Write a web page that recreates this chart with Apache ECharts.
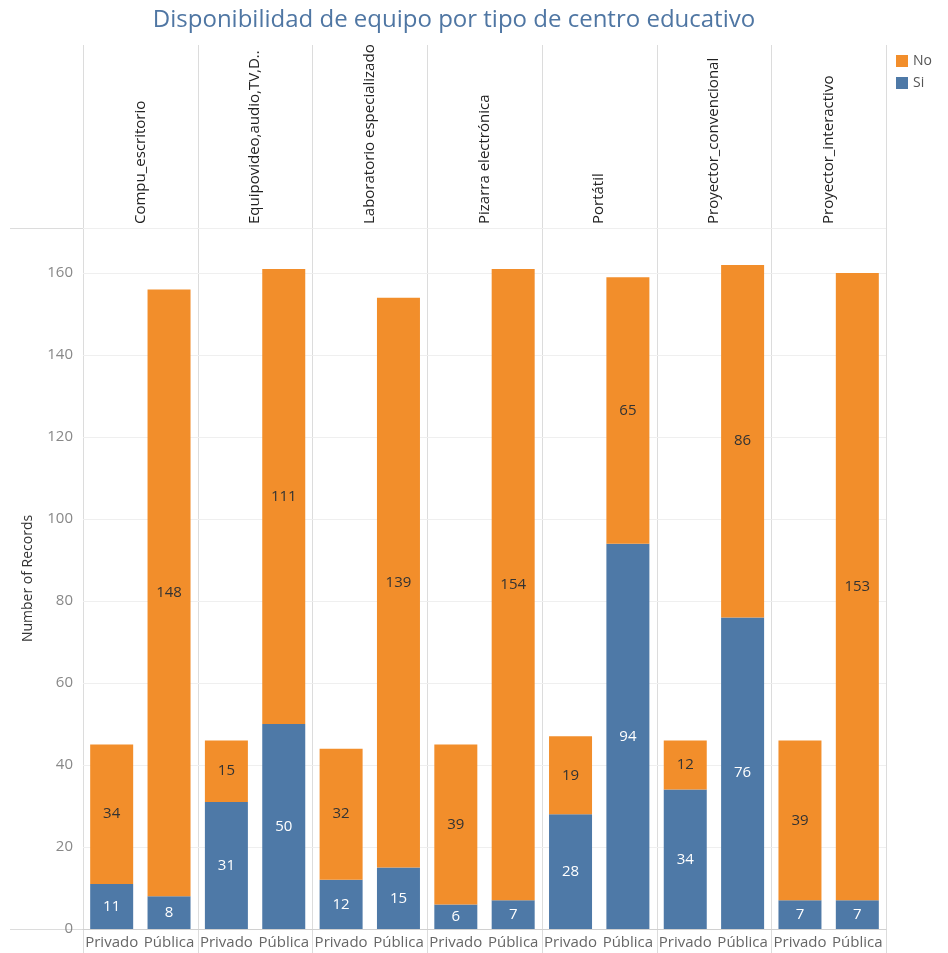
<!DOCTYPE html>
<html>
<head>
<meta charset="utf-8">
<script src="https://cdn.jsdelivr.net/npm/echarts@6/dist/echarts.min.js"></script>
<style>html,body{margin:0;padding:0;background:#fff}#c{width:948px;height:953px}</style>
</head>
<body>
<div id="c"></div>
<script>
var facets = ['Compu_escritorio','Equipovideo,audio,TV,D..','Laboratorio especializado','Pizarra electrónica','Portátil','Proyector_convencional','Proyector_interactivo'];
var centerTypes = ['Privado','Pública'];
var siPrivado  = [11, 31, 12, 6, 28, 34, 7];
var siPublica  = [8, 50, 15, 7, 94, 76, 7];
var noPrivado  = [34, 15, 32, 39, 19, 12, 39];
var noPublica  = [148, 111, 139, 154, 65, 86, 153];
var yTicks = [0, 20, 40, 60, 80, 100, 120, 140, 160];

var FONT = '"Open Sans", "Noto Sans", sans-serif';
var L = 83, R = 886, TOP = 228, BOT = 929, HEAD_TOP = 45;
var W = (R - L) / facets.length;
var BLUE = '#4e79a7', ORANGE = '#f28e2b';

var grids = [], xAxes = [], yAxes = [], series = [], graphics = [];
facets.forEach(function (f, i) {
  grids.push({left: L + i * W, width: W, top: TOP, height: BOT - TOP, containLabel: false});
  xAxes.push({
    type: 'category', gridIndex: i, data: centerTypes, position: 'bottom',
    axisLine: {show: true, lineStyle: {color: '#d0d0d0'}}, axisTick: {show: false},
    axisLabel: {color: '#666', fontSize: 15, fontFamily: FONT, margin: 6, interval: 0}
  });
  xAxes.push({
    type: 'category', gridIndex: i, data: [f], position: 'top',
    axisLine: {show: false}, axisTick: {show: false},
    axisLabel: {rotate: -90, color: '#222', fontSize: 15, fontFamily: FONT, margin: 4, interval: 0}
  });
  yAxes.push({
    type: 'value', gridIndex: i, min: 0, max: 171, interval: 20,
    name: i === 0 ? 'Number of Records' : '', nameLocation: 'middle', nameGap: 48,
    nameTextStyle: {color: '#333', fontSize: 14, fontFamily: FONT},
    axisLine: {show: false}, axisTick: {show: false},
    axisLabel: {show: i === 0, color: '#888', fontSize: 15, fontFamily: FONT, margin: 10,
      formatter: function (v) { return yTicks.indexOf(v) >= 0 ? String(v) : ''; }},
    splitLine: {show: true, lineStyle: {color: '#efefef'}}
  });
  series.push({
    name: 'Si', type: 'bar', xAxisIndex: 2 * i, yAxisIndex: i, stack: 's' + i, barWidth: 43,
    data: [siPrivado[i], siPublica[i]], itemStyle: {color: BLUE},
    label: {show: true, position: 'inside', color: '#fff', fontSize: 15, fontFamily: FONT}
  });
  series.push({
    name: 'No', type: 'bar', xAxisIndex: 2 * i, yAxisIndex: i, stack: 's' + i, barWidth: 43,
    data: [noPrivado[i], noPublica[i]], itemStyle: {color: ORANGE},
    label: {show: true, position: 'inside', color: '#333', fontSize: 15, fontFamily: FONT}
  });
});

// panel frame lines
for (var k = 0; k <= facets.length; k++) {
  var x = Math.round(L + k * W) + 0.5;
  graphics.push({type: 'line', silent: true, z: -1,
    shape: {x1: x, y1: HEAD_TOP, x2: x, y2: 953}, style: {stroke: '#dcdcdc', lineWidth: 1}});
}
graphics.push({type: 'line', silent: true, z: -1,
  shape: {x1: 10, y1: TOP + 0.5, x2: R, y2: TOP + 0.5}, style: {stroke: '#dcdcdc', lineWidth: 1}});
graphics.push({type: 'line', silent: true, z: -1,
  shape: {x1: 10, y1: BOT + 0.5, x2: L, y2: BOT + 0.5}, style: {stroke: '#dcdcdc', lineWidth: 1}});

var chart = echarts.init(document.getElementById('c'), null, {renderer: 'canvas'});
chart.setOption({
  backgroundColor: '#fff',
  animation: false,
  title: {
    text: 'Disponibilidad de equipo por tipo de centro educativo',
    left: 449, top: 3, textAlign: 'center',
    textStyle: {color: '#4f76a3', fontSize: 24, fontWeight: 500, fontFamily: FONT}
  },
  legend: {
    data: ['No', 'Si'], orient: 'vertical', left: 891, top: 49,
    itemWidth: 12, itemHeight: 12, itemGap: 8, icon: 'rect',
    textStyle: {color: '#555', fontSize: 14, fontFamily: FONT}
  },
  grid: grids, xAxis: xAxes, yAxis: yAxes, series: series, graphic: graphics
});
</script>
</body>
</html>
